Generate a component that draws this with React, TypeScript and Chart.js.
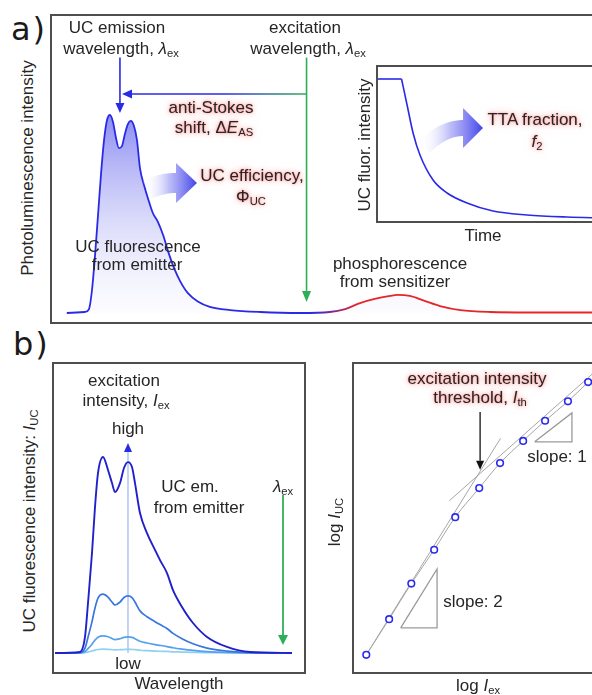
import React, { useEffect, useRef } from "react";
import { Chart, registerables } from "chart.js";

Chart.register(...registerables);

// ---------------- Panel a: photoluminescence spectrum (arb. units) ----------------
const spectrumWavelength = [2.7, 6.0, 6.75, 7.3, 7.85, 8.4, 8.94, 9.5, 10.04, 10.58, 11.13, 11.68, 12.2, 12.77, 13.3, 13.87, 14.4, 14.96, 15.5, 16.06, 16.8, 17.5, 18.4, 19.3, 20.26, 21.2, 22.3, 23.4, 24.8, 26.6, 28.8, 32.5, 38.0, 45.3, 50.7, 53.5, 56.2, 58.9, 61.7, 63.0, 65.3, 68.0, 70.8, 74.5, 80.0, 87.2, 101.5];
const spectrumIntensity = [0, 0.005, 0.02, 0.116, 0.29, 0.495, 0.7, 0.874, 0.975, 1.0, 0.965, 0.884, 0.833, 0.843, 0.904, 0.955, 0.97, 0.944, 0.874, 0.73, 0.645, 0.58, 0.505, 0.462, 0.395, 0.31, 0.225, 0.16, 0.1, 0.058, 0.031, 0.015, 0.005, 0, 0.005, 0.02, 0.05, 0.071, 0.086, 0.091, 0.086, 0.061, 0.035, 0.015, 0.005, 0.0025, 0.0025];
// colour change from emitter (blue) to sensitizer (red)
const spectrumColorSwitch = [47.6, 55.3];
// annotation positions (data units)
const emissionMarker = 12.4;
const excitationMarker = 46.45;
const markerTop = 1.29;
const emissionTip = 1.01;
const excitationTip = 0.056;
const shiftLevel = 1.106;
const shiftTip = 12.77;
const efficiencyArrow = { start: [17.34, 0.621], base: [22.63, 0.657], tip: [26.46, 0.657] };

// ---------------- Inset: UC fluorescence decay ----------------
const pulseTime = [0, 10.6];
const pulseIntensity = [1, 1];
const decayTime = [10.6, 13.1, 15.8, 18.9, 24.8, 31.1, 40.1, 51.8, 67.1, 85.1, 101.8];
const decayIntensity = [1.0, 0.813, 0.612, 0.453, 0.273, 0.18, 0.108, 0.05, 0.022, 0.007, 0];
const ttaArrow = { start: [20.7, 0.511], base: [38.3, 0.647], tip: [47.3, 0.647] };

// ---------------- Panel b (left): UC spectra vs excitation intensity ----------------
const bWavelength = [0.4, 10.4, 12.4, 13.6, 15.2, 16.4, 17.6, 19.6, 21.6, 23.2, 24.4, 26.4, 28.0, 29.6, 31.2, 32.4, 34.4, 37.2, 40.4, 42.4, 45.2, 47.6, 51.2, 55.6, 61.2, 69.2, 78.4, 95.2];
const bHigh = [0, 0.005, 0.082, 0.255, 0.51, 0.745, 0.918, 1.0, 0.934, 0.867, 0.821, 0.867, 0.944, 0.974, 0.949, 0.867, 0.714, 0.612, 0.526, 0.474, 0.408, 0.321, 0.235, 0.153, 0.082, 0.031, 0.005, 0];
const bMid = [0, 0.002, 0.025, 0.08, 0.16, 0.23, 0.28, 0.3, 0.285, 0.26, 0.245, 0.26, 0.283, 0.291, 0.283, 0.26, 0.215, 0.185, 0.16, 0.145, 0.125, 0.1, 0.073, 0.047, 0.025, 0.01, 0.002, 0];
const bLowMid = [0, 0.001, 0.007, 0.022, 0.045, 0.066, 0.08, 0.087, 0.083, 0.074, 0.068, 0.073, 0.08, 0.082, 0.08, 0.073, 0.06, 0.051, 0.043, 0.039, 0.033, 0.027, 0.02, 0.013, 0.007, 0.003, 0.001, 0];
const bLow = [0, 0, 0.002, 0.005, 0.01, 0.015, 0.018, 0.02, 0.019, 0.017, 0.016, 0.017, 0.018, 0.019, 0.018, 0.017, 0.014, 0.012, 0.01, 0.009, 0.008, 0.006, 0.005, 0.003, 0.002, 0.001, 0, 0];
const bColors = ["#2121cc", "#3a76e0", "#56a0ea", "#90d0f2"];
const intensityMarker = 29.6;
const intensityTip = 1.071;
const bExcitationMarker = 91.6;
const bExcitationTop = 0.806;
const bExcitationTip = 0.041;

// ---------------- Panel b (right): log-log power dependence ----------------
const logIex = [0, 1.03, 2.03, 3.06, 4.01, 5.09, 6.03, 7.07, 8.06, 9.09, 10.0];
const logIuc = [0, 1.595, 3.19, 4.7, 6.16, 7.46, 8.58, 9.57, 10.47, 11.34, 12.2];
const slope2FitX = [0, 6.05];
const slope2FitY = [0, 9.68];
const slope1FitX = [3.75, 10.73];
const slope1FitY = [6.9, 13.04];
const slope2TriX = [1.55, 3.19, 3.19, 1.55];
const slope2TriY = [1.21, 1.21, 3.84, 1.21];
const slope1TriX = [7.59, 9.27, 9.27, 7.59];
const slope1TriY = [9.53, 9.53, 10.82, 9.53];
const thresholdX = 5.13;
const thresholdTop = 10.86;
const thresholdTip = 8.28;

// ---------------------------------------------------------------------------
type Pt = { x: number; y: number };
const zip = (xs: number[], ys: number[]): Pt[] => xs.map((x, i) => ({ x, y: ys[i] }));

const FONT = '"Liberation Sans", Arial, Helvetica, sans-serif';
const BLUE = "#2a2ae6";
const GREEN = "#2fae58";
const GLOW = "0 0 2px rgba(255,130,130,0.8), 0 0 5px rgba(255,140,140,0.75), 0 0 8px rgba(255,185,185,0.6)";

function baseOptions(xmin: number, xmax: number, ymin: number, ymax: number): any {
  return {
    responsive: false,
    maintainAspectRatio: false,
    animation: false,
    events: [],
    layout: { padding: 0 },
    plugins: { legend: { display: false }, tooltip: { enabled: false }, title: { display: false } },
    scales: {
      x: { type: "linear", min: xmin, max: xmax, display: false },
      y: { type: "linear", min: ymin, max: ymax, display: false },
    },
    elements: { point: { radius: 0 } },
  };
}

function arrow(ctx: CanvasRenderingContext2D, x1: number, y1: number, x2: number, y2: number, stroke: any, head: string, lw: number, headLen: number, headHalf: number) {
  const dx = x2 - x1, dy = y2 - y1;
  const L = Math.hypot(dx, dy) || 1;
  const ux = dx / L, uy = dy / L;
  const bx = x2 - ux * headLen, by = y2 - uy * headLen;
  ctx.save();
  ctx.strokeStyle = stroke;
  ctx.lineWidth = lw;
  ctx.beginPath();
  ctx.moveTo(x1, y1);
  ctx.lineTo(bx, by);
  ctx.stroke();
  ctx.fillStyle = head;
  ctx.beginPath();
  ctx.moveTo(x2, y2);
  ctx.lineTo(bx - uy * headHalf, by + ux * headHalf);
  ctx.lineTo(bx + uy * headHalf, by - ux * headHalf);
  ctx.closePath();
  ctx.fill();
  ctx.restore();
}

function fatArrow(ctx: CanvasRenderingContext2D, S: Pt, B: Pt, T: Pt, bodyHalf: number, headHalf: number) {
  const C = { x: (S.x + B.x) / 2, y: B.y };
  const n = 24;
  const s1: Pt[] = [], s2: Pt[] = [];
  for (let i = 0; i <= n; i++) {
    const t = i / n, mt = 1 - t;
    const x = mt * mt * S.x + 2 * mt * t * C.x + t * t * B.x;
    const y = mt * mt * S.y + 2 * mt * t * C.y + t * t * B.y;
    const dx = 2 * mt * (C.x - S.x) + 2 * t * (B.x - C.x);
    const dy = 2 * mt * (C.y - S.y) + 2 * t * (B.y - C.y);
    const l = Math.hypot(dx, dy) || 1;
    const nx = -dy / l, ny = dx / l;
    s1.push({ x: x + nx * bodyHalf, y: y + ny * bodyHalf });
    s2.push({ x: x - nx * bodyHalf, y: y - ny * bodyHalf });
  }
  const hx = T.x - B.x, hy = T.y - B.y, hl = Math.hypot(hx, hy) || 1;
  const hnx = -hy / hl, hny = hx / hl;
  const g = ctx.createLinearGradient(S.x, 0, T.x, 0);
  g.addColorStop(0, "rgba(248,248,255,0.15)");
  g.addColorStop(0.45, "rgba(165,165,246,0.75)");
  g.addColorStop(1, "rgba(66,66,234,1)");
  ctx.save();
  ctx.beginPath();
  ctx.moveTo(s1[0].x, s1[0].y);
  s1.forEach((p) => ctx.lineTo(p.x, p.y));
  ctx.lineTo(B.x + hnx * headHalf, B.y + hny * headHalf);
  ctx.lineTo(T.x, T.y);
  ctx.lineTo(B.x - hnx * headHalf, B.y - hny * headHalf);
  for (let i = s2.length - 1; i >= 0; i--) ctx.lineTo(s2[i].x, s2[i].y);
  ctx.closePath();
  ctx.fillStyle = g;
  ctx.fill();
  ctx.restore();
}

function px(chart: any, v: number[]): Pt {
  return { x: chart.scales.x.getPixelForValue(v[0]), y: chart.scales.y.getPixelForValue(v[1]) };
}

// ---------------- chart configs ----------------
function configA(): any {
  return {
    type: "line",
    data: {
      datasets: [
        {
          data: zip(spectrumWavelength, spectrumIntensity),
          borderWidth: 1.8,
          cubicInterpolationMode: "monotone",
          fill: "origin",
          borderColor: (c: any) => {
            const chart = c.chart;
            if (!chart.chartArea) return BLUE;
            const xs = chart.scales.x;
            const g = chart.ctx.createLinearGradient(xs.getPixelForValue(spectrumColorSwitch[0]), 0, xs.getPixelForValue(spectrumColorSwitch[1]), 0);
            g.addColorStop(0, BLUE);
            g.addColorStop(1, "#e4262a");
            return g;
          },
          backgroundColor: (c: any) => {
            const chart = c.chart;
            if (!chart.chartArea) return "rgba(120,120,240,0.5)";
            const ys = chart.scales.y;
            const g = chart.ctx.createLinearGradient(0, ys.getPixelForValue(1), 0, ys.getPixelForValue(0));
            g.addColorStop(0, "rgba(120,120,240,0.85)");
            g.addColorStop(0.45, "rgba(178,178,246,0.6)");
            g.addColorStop(1, "rgba(242,242,254,0.25)");
            return g;
          },
        },
      ],
    },
    options: baseOptions(0, 101.46, -0.0455, 1.5),
    plugins: [
      {
        id: "annotA",
        afterDatasetsDraw(chart: any) {
          const ctx = chart.ctx;
          const X = (v: number) => chart.scales.x.getPixelForValue(v);
          const Y = (v: number) => chart.scales.y.getPixelForValue(v);
          // anti-Stokes shift arrow (horizontal)
          const g = ctx.createLinearGradient(X(shiftTip), 0, X(excitationMarker), 0);
          g.addColorStop(0, BLUE);
          g.addColorStop(0.55, BLUE);
          g.addColorStop(1, GREEN);
          arrow(ctx, X(excitationMarker), Y(shiftLevel), X(shiftTip), Y(shiftLevel), g, BLUE, 1.6, 10, 4.5);
          arrow(ctx, X(emissionMarker), Y(markerTop), X(emissionMarker), Y(emissionTip), BLUE, BLUE, 1.6, 10, 4.5);
          arrow(ctx, X(excitationMarker), Y(markerTop), X(excitationMarker), Y(excitationTip), GREEN, GREEN, 1.6, 11, 4.5);
          fatArrow(ctx, px(chart, efficiencyArrow.start), px(chart, efficiencyArrow.base), px(chart, efficiencyArrow.tip), 10, 20);
        },
      },
    ],
  };
}

function configInset(): any {
  return {
    type: "line",
    data: {
      datasets: [
        { data: zip(pulseTime, pulseIntensity), borderColor: BLUE, borderWidth: 1.6, tension: 0 },
        { data: zip(decayTime, decayIntensity), borderColor: BLUE, borderWidth: 1.6, cubicInterpolationMode: "monotone" },
      ],
    },
    options: baseOptions(0, 101.8, -0.0216, 1.0863),
    plugins: [
      {
        id: "annotInset",
        afterDatasetsDraw(chart: any) {
          fatArrow(chart.ctx, px(chart, ttaArrow.start), px(chart, ttaArrow.base), px(chart, ttaArrow.tip), 8, 20);
        },
      },
    ],
  };
}

function configB1(): any {
  const series = [bHigh, bMid, bLowMid, bLow];
  return {
    type: "line",
    data: {
      datasets: series.map((s, i) => ({
        data: zip(bWavelength, s),
        borderColor: bColors[i],
        borderWidth: i === 0 ? 1.9 : 1.7,
        cubicInterpolationMode: "monotone",
      })),
    },
    options: baseOptions(0, 100, -0.0969, 1.4745),
    plugins: [
      {
        id: "annotB1",
        beforeDatasetsDraw(chart: any) {
          const ctx = chart.ctx;
          const X = (v: number) => chart.scales.x.getPixelForValue(v);
          const Y = (v: number) => chart.scales.y.getPixelForValue(v);
          arrow(ctx, X(intensityMarker), Y(0), X(intensityMarker), Y(intensityTip), "#a9c2f2", BLUE, 1.4, 9, 4);
        },
        afterDatasetsDraw(chart: any) {
          const ctx = chart.ctx;
          const X = (v: number) => chart.scales.x.getPixelForValue(v);
          const Y = (v: number) => chart.scales.y.getPixelForValue(v);
          arrow(ctx, X(bExcitationMarker), Y(bExcitationTop), X(bExcitationMarker), Y(bExcitationTip), GREEN, GREEN, 1.8, 10, 5);
        },
      },
    ],
  };
}

function configB2(): any {
  const gray = "#a6a6a6";
  return {
    type: "line",
    data: {
      datasets: [
        {
          data: zip(logIex, logIuc),
          showLine: false,
          pointRadius: 3.3,
          pointBorderWidth: 1.6,
          pointBorderColor: "#2b2bf0",
          pointBackgroundColor: "#ffffff",
        },
        { data: zip(logIex, logIuc), borderColor: gray, borderWidth: 1, cubicInterpolationMode: "monotone" },
        { data: zip(slope2FitX, slope2FitY), borderColor: gray, borderWidth: 1, tension: 0 },
        { data: zip(slope1FitX, slope1FitY), borderColor: gray, borderWidth: 1, tension: 0 },
        { data: zip(slope2TriX, slope2TriY), borderColor: "#9a9a9a", borderWidth: 1.3, tension: 0 },
        { data: zip(slope1TriX, slope1TriY), borderColor: "#9a9a9a", borderWidth: 1.3, tension: 0 },
      ],
    },
    options: baseOptions(-0.3017, 10.733, -0.517, 12.759),
    plugins: [
      {
        id: "annotB2",
        afterDatasetsDraw(chart: any) {
          const ctx = chart.ctx;
          const X = (v: number) => chart.scales.x.getPixelForValue(v);
          const Y = (v: number) => chart.scales.y.getPixelForValue(v);
          arrow(ctx, X(thresholdX), Y(thresholdTop), X(thresholdX), Y(thresholdTip), "#111", "#111", 1.3, 9, 4);
        },
      },
    ],
  };
}

// ---------------- components ----------------
function ChartBox(props: { left: number; top: number; width: number; height: number; build: () => any; z?: number }) {
  const ref = useRef<HTMLCanvasElement>(null);
  const iw = props.width - 4;
  const ih = props.height - 4;
  useEffect(() => {
    const chart = new Chart(ref.current as HTMLCanvasElement, props.build());
    return () => chart.destroy();
  }, []);
  return (
    <div
      style={{
        position: "absolute",
        left: props.left,
        top: props.top,
        width: props.width,
        height: props.height,
        boxSizing: "border-box",
        border: "2px solid #4e4e4e",
        background: "#fff",
        zIndex: props.z ?? 1,
      }}
    >
      <canvas ref={ref} width={iw} height={ih} style={{ display: "block", width: iw, height: ih }} />
    </div>
  );
}

const Sub = (p: { children: any }) => (
  <span style={{ fontSize: "0.66em", verticalAlign: "-0.28em", lineHeight: 0 }}>{p.children}</span>
);

function Line(p: { cx: number; top: number; glow?: boolean; children: any; size?: number }) {
  return (
    <div
      style={{
        position: "absolute",
        left: p.cx - 150,
        width: 300,
        top: p.top,
        height: 20,
        lineHeight: "20px",
        textAlign: "center",
        whiteSpace: "nowrap",
        fontSize: p.size ?? 17,
        color: "#262626",
        textShadow: p.glow ? GLOW : undefined,
        zIndex: 5,
      }}
    >
      {p.children}
    </div>
  );
}

function VLabel(p: { cx: number; cy: number; children: any }) {
  return (
    <div
      style={{
        position: "absolute",
        left: p.cx - 150,
        top: p.cy - 10,
        width: 300,
        height: 20,
        lineHeight: "20px",
        textAlign: "center",
        whiteSpace: "nowrap",
        fontSize: 17,
        color: "#262626",
        transform: "rotate(-90deg)",
        transformOrigin: "50% 50%",
        zIndex: 5,
      }}
    >
      {p.children}
    </div>
  );
}

function PanelTag(p: { left: number; top: number; children: any }) {
  return (
    <div
      style={{
        position: "absolute",
        left: p.left,
        top: p.top,
        fontFamily: '"DejaVu Sans", sans-serif',
        fontSize: 32,
        lineHeight: "32px",
        letterSpacing: 2,
        color: "#1a1a1a",
        zIndex: 5,
      }}
    >
      {p.children}
    </div>
  );
}

export default function App() {
  return (
    <div
      style={{
        position: "absolute",
        left: 0,
        top: 0,
        width: 592,
        height: 695,
        overflow: "hidden",
        background: "#fff",
        fontFamily: FONT,
      }}
    >
      {/* panel a */}
      <ChartBox left={50} top={14} width={560} height={310} build={configA} z={1} />
      <ChartBox left={376} top={65} width={230} height={158} build={configInset} z={2} />
      <PanelTag left={11} top={13}>a)</PanelTag>
      <VLabel cx={28} cy={168}>Photoluminescence intensity</VLabel>
      <Line cx={117} top={18}>UC emission</Line>
      <Line cx={121} top={39}>
        wavelength, <i>λ</i>
        <Sub>ex</Sub>
      </Line>
      <Line cx={305} top={18}>excitation</Line>
      <Line cx={308} top={39}>
        wavelength, <i>λ</i>
        <Sub>ex</Sub>
      </Line>
      <Line cx={211} top={98} glow>
        anti-Stokes
      </Line>
      <Line cx={214} top={118} glow>
        shift, Δ<i>E</i>
        <Sub>AS</Sub>
      </Line>
      <Line cx={252} top={166} glow>
        UC efficiency,
      </Line>
      <Line cx={251} top={187} glow>
        Φ<Sub>UC</Sub>
      </Line>
      <Line cx={138} top={237}>UC fluorescence</Line>
      <Line cx={137} top={255}>from emitter</Line>
      <Line cx={400} top={254}>phosphorescence</Line>
      <Line cx={395} top={272}>from sensitizer</Line>
      <VLabel cx={365} cy={145}>UC fluor. intensity</VLabel>
      <Line cx={483} top={226}>Time</Line>
      <Line cx={535} top={110} glow>
        TTA fraction,
      </Line>
      <Line cx={537} top={132} glow>
        <i>f</i>
        <Sub>2</Sub>
      </Line>

      {/* panel b */}
      <ChartBox left={52} top={362} width={254} height={312} build={configB1} z={1} />
      <ChartBox left={352} top={362} width={260} height={312} build={configB2} z={1} />
      <PanelTag left={13} top={328}>b)</PanelTag>
      <VLabel cx={30} cy={521}>
        UC fluorescence intensity: <i>I</i>
        <Sub>UC</Sub>
      </VLabel>
      <Line cx={124} top={371}>excitation</Line>
      <Line cx={126} top={391}>
        intensity, <i>I</i>
        <Sub>ex</Sub>
      </Line>
      <Line cx={128} top={419}>high</Line>
      <Line cx={190} top={477}>UC em.</Line>
      <Line cx={199} top={498}>from emitter</Line>
      <Line cx={283} top={477}>
        <i>λ</i>
        <Sub>ex</Sub>
      </Line>
      <Line cx={128} top={654}>low</Line>
      <Line cx={179} top={674}>Wavelength</Line>

      <Line cx={477} top={369} glow>
        excitation intensity
      </Line>
      <Line cx={480} top={388} glow>
        threshold, <i>I</i>
        <Sub>th</Sub>
      </Line>
      <Line cx={557} top={447}>slope: 1</Line>
      <Line cx={473} top={592}>slope: 2</Line>
      <VLabel cx={335} cy={522}>
        log <i>I</i>
        <Sub>UC</Sub>
      </VLabel>
      <Line cx={478} top={676}>
        log <i>I</i>
        <Sub>ex</Sub>
      </Line>
    </div>
  );
}
